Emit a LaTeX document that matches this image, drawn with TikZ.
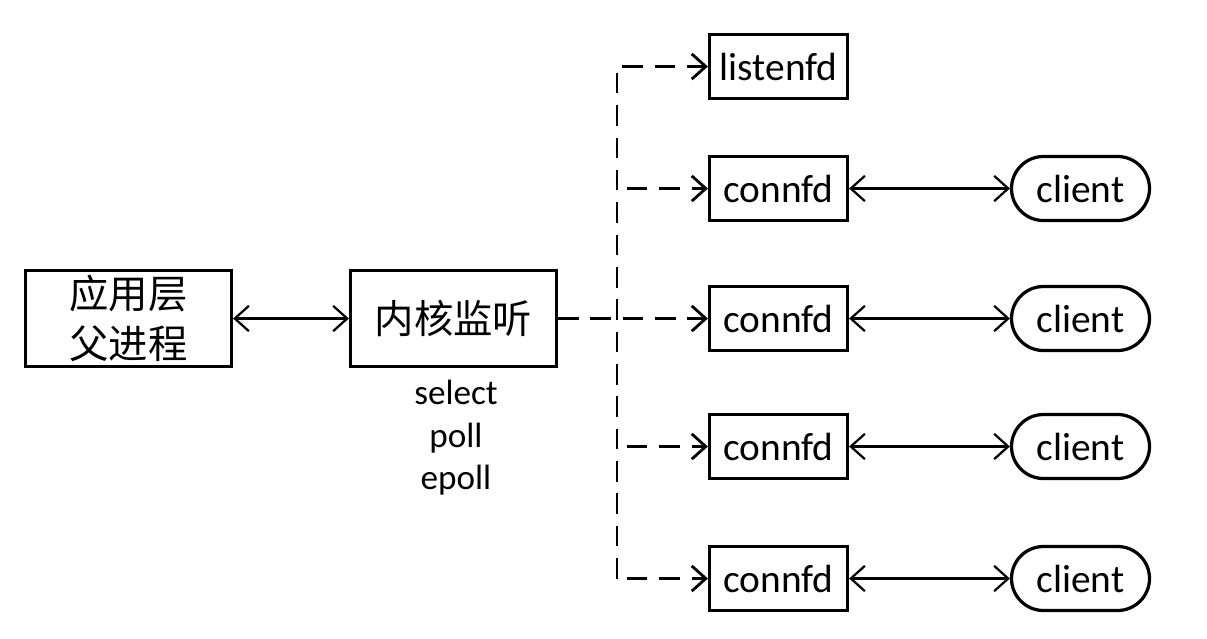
\documentclass[tikz,border=0pt]{standalone}
\usepackage{fontspec}
\setmainfont{Carlito}
\newfontfamily\cjk{Noto Sans CJK SC}
\usetikzlibrary{arrows.meta, positioning}
\tikzstyle{procbox} = [rectangle, minimum width=5.15cm, minimum height=2.4cm, text centered, align=center, draw=black, line width=2.3pt, font=\cjk\fontsize{28}{35.5}\selectfont]
\tikzstyle{fdbox} = [rectangle, minimum width=3.45cm, minimum height=1.6cm, inner sep=0pt, text centered, draw=black, line width=2.3pt, font=\fontsize{28}{34}\selectfont]
\tikzstyle{clientbox} = [fdbox, rounded corners=0.8cm]
\tikzstyle{apitext} = [align=center, font=\fontsize{25}{30.2}\selectfont]
\tikzstyle{arrow} = [line width=1.6pt, {Straight Barb[length=10pt,width=18pt]}-{Straight Barb[length=10pt,width=18pt]}]
\tikzstyle{darrow} = [line width=2pt, dash pattern=on 14.5pt off 8.5pt, -{Straight Barb[length=10pt,width=18pt]}]

\begin{document}
\begin{tikzpicture}
	\useasboundingbox (0,0) rectangle (30.175,-15.95);

	\node (app) [procbox] at (3.2125,-7.9625) {应用层\\父进程};
	\node (kern) [procbox] at (11.3375,-7.9625) {内核监听};
	\node (api) [apitext] at (11.4,-10.95) {select\\poll\\epoll};

	\node (lfd) [fdbox] at (19.4625,-1.6625) {listenfd};
	\node (c1) [fdbox] at (19.4625,-4.7125) {connfd};
	\node (c2) [fdbox] at (19.4625,-7.9625) {connfd};
	\node (c3) [fdbox] at (19.4625,-11.1625) {connfd};
	\node (c4) [fdbox] at (19.4625,-14.4625) {connfd};

	\node (cl1) [clientbox] at (27.0125,-4.7125) {client};
	\node (cl2) [clientbox] at (27.0125,-7.9625) {client};
	\node (cl3) [clientbox] at (27.0125,-11.1625) {client};
	\node (cl4) [clientbox] at (27.0125,-14.4625) {client};

	\coordinate (bot) at (15.425,-14.4625);

	\draw [arrow] (app) -- (kern);
	\draw [darrow] (kern) -- (c2);
	\draw [darrow] (bot) |- (lfd.west);
	\foreach \i in {1,3,4}
		\draw [darrow] (15.675,0 |- c\i.west) -- (c\i.west);
	\foreach \i in {1,...,4}
		\draw [arrow] (c\i) -- (cl\i);
\end{tikzpicture}
\end{document}
